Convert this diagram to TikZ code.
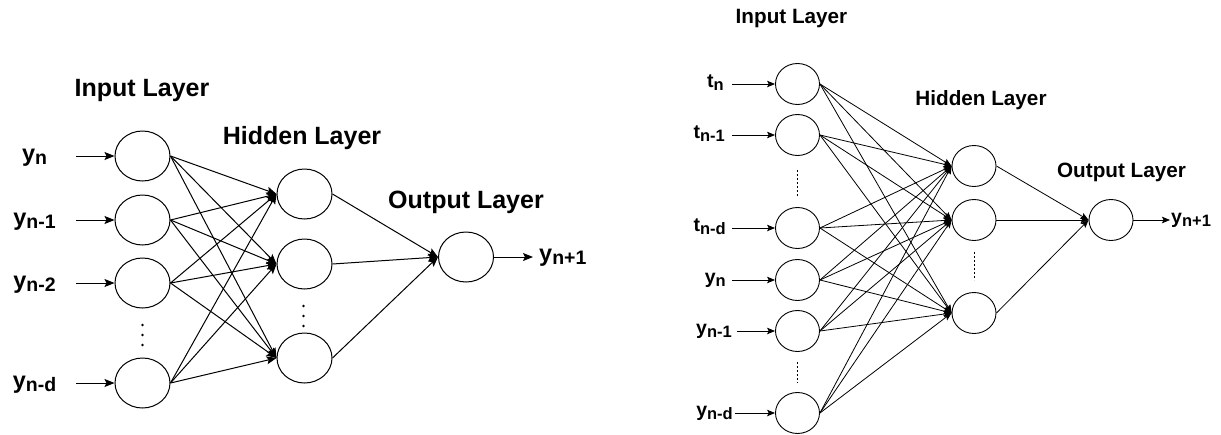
\documentclass[tikz,border=0pt]{standalone}
\usepackage{fontspec}
\setmainfont{Liberation Sans}
\usetikzlibrary{shapes.geometric,arrows.meta}
\newcommand{\mysubL}[1]{\raisebox{-3pt}{\fontsize{19.5}{19.5}\selectfont #1}}
\newcommand{\mysubR}[1]{\raisebox{-2.5pt}{\fontsize{16.5}{16.5}\selectfont #1}}
\begin{document}
\begin{tikzpicture}[x=1pt,y=-1pt,
 lneuron/.style={ellipse,draw,line width=1pt,minimum width=55pt,minimum height=50pt,inner sep=0pt},
 rneuron/.style={ellipse,draw,line width=0.9pt,minimum width=44pt,minimum height=41pt,inner sep=0pt},
 larr/.style={line width=1pt,-{Stealth[length=10pt,width=8pt,inset=2pt]}},
 rarr/.style={line width=0.8pt,-{Stealth[length=8pt,width=6.5pt,inset=1.6pt]}},
 ltitle/.style={font=\fontsize{25}{25}\selectfont\bfseries,anchor=base,inner sep=0pt},
 rtitle/.style={font=\fontsize{20.7}{20.7}\selectfont\bfseries,anchor=base,inner sep=0pt},
 llab/.style={font=\fontsize{23.5}{23.5}\selectfont\bfseries,inner sep=0pt},
 rlab/.style={font=\fontsize{19.5}{19.5}\selectfont\bfseries,inner sep=0pt},
 dotf/.style={fill,circle,inner sep=0pt,minimum size=2.6pt},
 vdash/.style={line width=0.8pt,dash pattern=on 2pt off 2pt}
]
\useasboundingbox (0,0) rectangle (1221,434);

% ---------- Left network ----------
\node[ltitle] (tin) at (142,96) {Input Layer};
\node[ltitle] (thid) at (302,144) {Hidden Layer};
\node[ltitle] (tout) at (466,208) {Output Layer};

\node[lneuron] (i1) at (142.5,156) {};
\node[lneuron] (i2) at (142.5,220) {};
\node[lneuron] (i3) at (142.5,283) {};
\node[lneuron] (i4) at (142.5,383) {};
\node[lneuron] (h1) at (304.5,194) {};
\node[lneuron] (h2) at (304.5,264) {};
\node[lneuron] (h3) at (304.5,358) {};
\node[lneuron] (o) at (466,257) {};

\node[llab,anchor=mid] (l1) at (34.5,159) {y\mysubL{n}};
\node[llab,anchor=mid] (l2) at (34.5,223) {y\mysubL{n-1}};
\node[llab,anchor=mid] (l3) at (34.5,286) {y\mysubL{n-2}};
\node[llab,anchor=mid] (l4) at (34.5,386) {y\mysubL{n-d}};
\node[llab,anchor=mid west] (lo) at (539,259) {y\mysubL{n+1}};

\coordinate (s1) at (76,156);
\coordinate (s2) at (76,220);
\coordinate (s3) at (76,283);
\coordinate (s4) at (76,383);
\coordinate (se) at (533,257);
\foreach \k in {1,...,4} {\draw[larr] (s\k) -- (i\k);}
\foreach \k in {1,...,4} {\foreach \h in {1,2,3} {\draw[larr] (i\k.east) -- (h\h.west);}}
\foreach \h in {1,2,3} {\draw[larr] (h\h.east) -- (o.west);}
\draw[larr] (o) -- (se);

\node[dotf] (d1) at (142.5,325) {};
\node[dotf] (d2) at (142.5,335) {};
\node[dotf] (d3) at (142.5,345) {};
\node[dotf] (d4) at (303.5,306) {};
\node[dotf] (d5) at (303.5,316) {};
\node[dotf] (d6) at (303.5,326) {};

% ---------- Right network ----------
\node[rtitle] (rtin) at (791.5,23) {Input Layer};
\node[rtitle] (rthid) at (981,105) {Hidden Layer};
\node[rtitle] (rtout) at (1121.5,177) {Output Layer};

\node[rneuron] (r1) at (797.5,84) {};
\node[rneuron] (r2) at (797.5,135) {};
\node[rneuron] (r3) at (797.5,228) {};
\node[rneuron] (r4) at (797.5,280) {};
\node[rneuron] (r5) at (797.5,331) {};
\node[rneuron] (r6) at (797.5,413) {};
\node[rneuron] (q1) at (974,166) {};
\node[rneuron] (q2) at (974,220) {};
\node[rneuron] (q3) at (974,313) {};
\node[rneuron] (ro) at (1111,220) {};

\node[rlab,anchor=mid east] (m1) at (724,85) {t\mysubR{n}};
\node[rlab,anchor=mid east] (m2) at (725,136) {t\mysubR{n-1}};
\node[rlab,anchor=mid east] (m3) at (726,229) {t\mysubR{n-d}};
\node[rlab,anchor=mid east] (m4) at (726,281) {y\mysubR{n}};
\node[rlab,anchor=mid east] (m5) at (732,332) {y\mysubR{n-1}};
\node[rlab,anchor=mid east] (m6) at (733,414) {y\mysubR{n-d}};
\node[rlab,anchor=mid west] (mo) at (1171,221) {y\mysubR{n+1}};

\coordinate (u1) at (732,84);
\coordinate (u2) at (732,135);
\coordinate (u3) at (732,228);
\coordinate (u4) at (732,280);
\coordinate (u5) at (737,331);
\coordinate (u6) at (735,413);
\coordinate (ue) at (1170,220);
\foreach \k in {1,...,6} {\draw[rarr] (u\k) -- (r\k);}
\foreach \k in {1,...,6} {\foreach \h in {1,2,3} {\draw[rarr] (r\k.east) -- (q\h.west);}}
\foreach \h in {1,2,3} {\draw[rarr] (q\h.east) -- (ro.west);}
\draw[rarr] (ro) -- (ue);

\coordinate (v1) at (797.5,170);
\coordinate (v2) at (797.5,197);
\coordinate (v3) at (797.5,362);
\coordinate (v4) at (797.5,383);
\coordinate (v5) at (974,252);
\coordinate (v6) at (974,280);
\draw[vdash] (v1) -- (v2);
\draw[vdash] (v3) -- (v4);
\draw[vdash] (v5) -- (v6);
\end{tikzpicture}
\end{document}
